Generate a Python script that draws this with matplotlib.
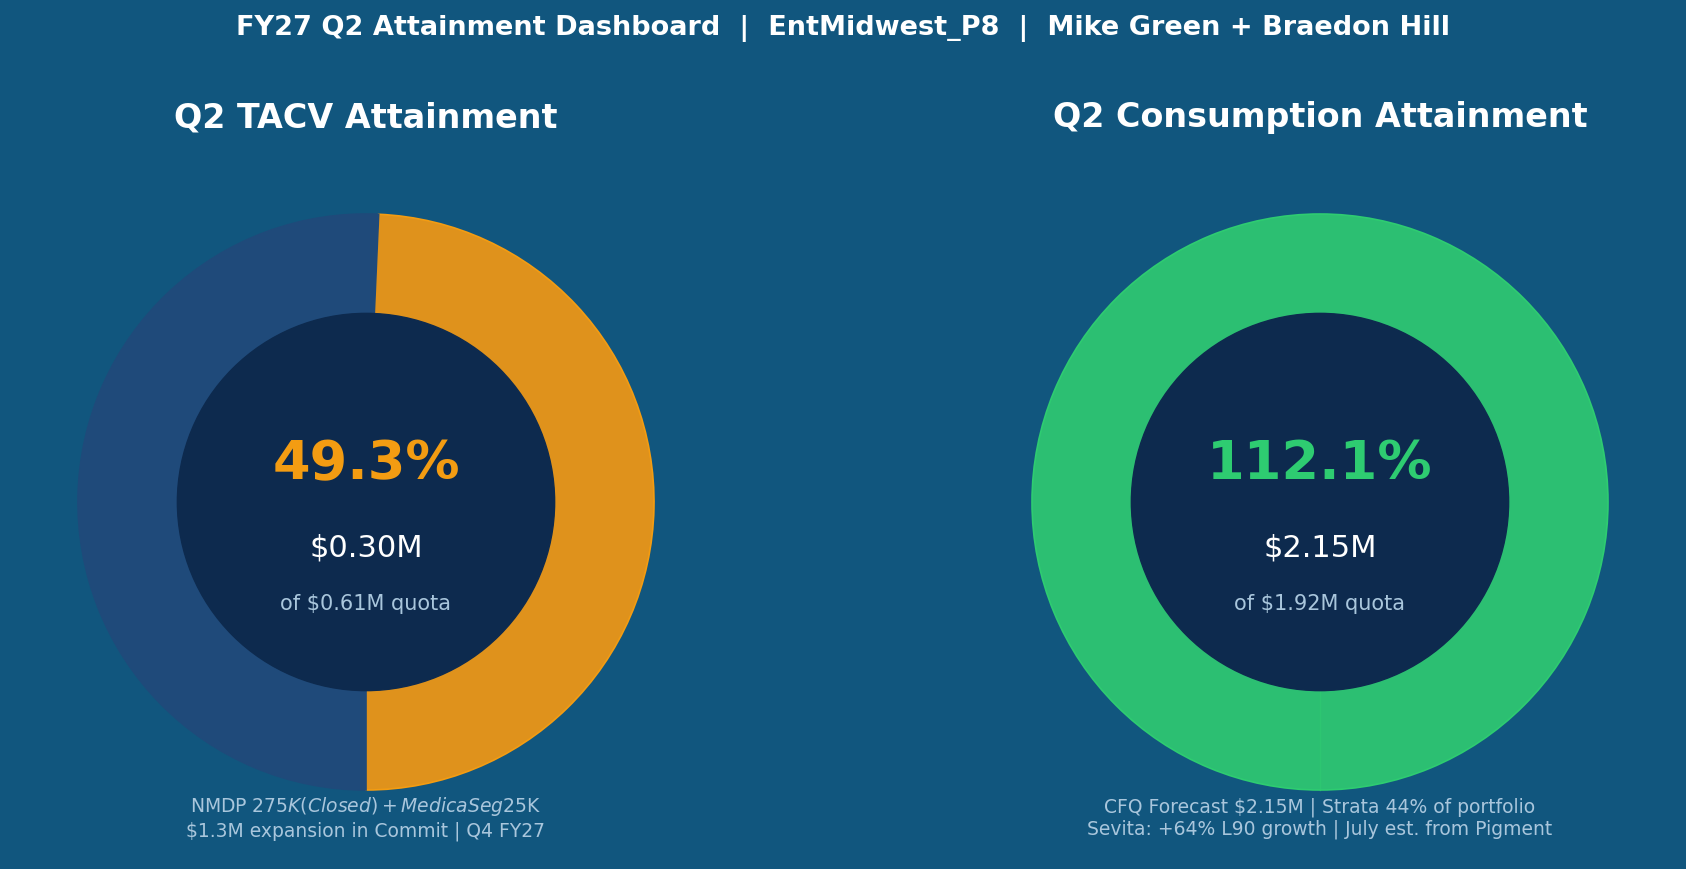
import matplotlib
matplotlib.use('Agg')
import matplotlib.pyplot as plt
from matplotlib.patches import Circle

plt.rcParams.update({
    'font.family': 'DejaVu Sans',
    'figure.facecolor': '#11567e',
    'text.color': '#ffffff',
})

# data
panel_titles = ['Q2 TACV Attainment', 'Q2 Consumption Attainment']
attain_pct = [49.3, 112.1]
actual_m = [0.30, 2.15]
quota_m = [0.61, 1.92]
footnotes = [
    'NMDP $275K (Closed) + Medica Seg $25K\n$1.3M expansion in Commit | Q4 FY27',
    'CFQ Forecast $2.15M | Strata 44% of portfolio\nSevita: +64% L90 growth | July est. from Pigment',
]
accent = ['#f39c12', '#2ecc71']
fill = ['#df921c', '#2cbf72']
rest_color = '#1f4a7a'
inner_color = '#0d2a4e'
muted = '#a9c6dc'

W, H = 1686, 870
fig = plt.figure(figsize=(W / 100, H / 100), dpi=100)

R = 288  # px for radius 1
lim = 1.2
centers_x = [366, 1320]
cy = H - 503

fig.suptitle('FY27 Q2 Attainment Dashboard  |  EntMidwest_P8  |  Mike Green + Braedon Hill',
             fontsize=19.5, fontweight='bold', color='white', y=1 - 29 / H, va='center')

for i in range(2):
    size = 2 * lim * R
    ax = fig.add_axes([(centers_x[i] - size / 2) / W, (cy - size / 2) / H, size / W, size / H])
    ax.set_facecolor('none')
    pct = attain_pct[i]
    shown = min(pct, 100)
    vals = [shown, 100 - shown] if shown < 100 else [100]
    cols = [fill[i], rest_color][:len(vals)]
    wedges, _ = ax.pie(vals, colors=cols, startangle=-90, counterclock=True, radius=1,
                       wedgeprops=dict(width=0.35, linewidth=1.2))
    wedges[0].set_edgecolor(accent[i])
    if len(wedges) > 1:
        wedges[1].set_edgecolor(rest_color)
    else:
        # seam where the full ring starts
        ax.plot([0, 0], [-1, -0.65], color=accent[i], lw=1, alpha=0.6, zorder=2)
    ax.add_patch(Circle((0, 0), 0.655, color=inner_color, zorder=3))
    ax.set_xlim(-lim, lim)
    ax.set_ylim(-lim, lim)
    ax.set_aspect('equal')
    ax.axis('off')

    ax.text(0, 0.135, f'{pct:.1f}%', ha='center', va='center', fontsize=39,
            fontweight='bold', color=accent[i], zorder=4)
    ax.text(0, -0.156, f'${actual_m[i]:.2f}M', ha='center', va='center', fontsize=22,
            color='white', zorder=4)
    ax.text(0, -0.351, f'of ${quota_m[i]:.2f}M quota', ha='center', va='center', fontsize=15,
            color=muted, zorder=4)
    ax.text(0, -1.094, footnotes[i], ha='center', va='center', fontsize=13.5,
            color=muted, zorder=4)

    fig.text(centers_x[i] / W, 1 - 118 / H, panel_titles[i], ha='center', va='center',
             fontsize=24, fontweight='bold', color='white')

fig.savefig('out.png', facecolor=fig.get_facecolor())
